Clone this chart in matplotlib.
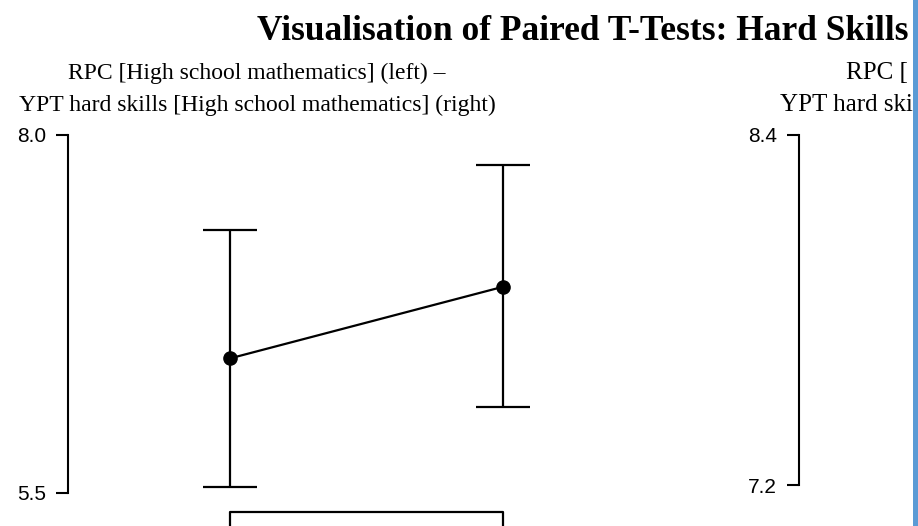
import matplotlib
matplotlib.use("Agg")
from matplotlib import pyplot as plt
from matplotlib.patches import Rectangle

# values
positions = [1, 2]
means = [6.44, 6.94]
ci_low = [5.54, 6.10]
ci_high = [7.34, 7.79]

left_ticks = [5.5, 8.0]
right_ticks = [7.2, 8.4]

title = "Visualisation of Paired T-Tests: Hard Skills"
sub_left = ["RPC [High school mathematics] (left) \u2013",
            "YPT hard skills [High school mathematics] (right)"]
sub_right = ["RPC [", "YPT hard skills ["]

W, H = 918, 526


def fx(px):
    return px / W


def fy(py):
    return (H - py) / H


fig = plt.figure(figsize=(W / 100, H / 100), dpi=100)
fig.patch.set_facecolor("white")

serif = "Liberation Serif"
sans = "Liberation Sans"

fig.text(fx(257), fy(40), title, family=serif, weight="bold", fontsize=25.5,
         ha="left", va="baseline")
fig.text(fx(257), fy(79), sub_left[0], family=serif, fontsize=17,
         ha="center", va="baseline")
fig.text(fx(257), fy(111), sub_left[1], family=serif, fontsize=17,
         ha="center", va="baseline")
fig.text(fx(846), fy(79), sub_right[0], family=serif, fontsize=18,
         ha="left", va="baseline")
fig.text(fx(780), fy(111), sub_right[1], family=serif, fontsize=18,
         ha="left", va="baseline")

# left panel
x0, x1 = 68, 600
ax = fig.add_axes([fx(x0), fy(493), fx(x1 - x0), fy(135) - fy(493)])
ppu = 273.0
ax.set_xlim(1 - (230 - x0) / ppu, 1 + (x1 - 230) / ppu)
ax.set_ylim(left_ticks[0], left_ticks[1])

err = [[m - lo for m, lo in zip(means, ci_low)],
       [hi - m for m, hi in zip(means, ci_high)]]
ax.errorbar(positions, means, yerr=err, fmt="none", ecolor="black",
            elinewidth=1.6, capsize=19.5, capthick=1.6, clip_on=False)
ax.plot(positions, means, color="black", lw=1.6, marker="o", ms=9.5,
        clip_on=False, zorder=3)

# bracket under the two conditions
ybr = left_ticks[0] - 19 * (left_ticks[1] - left_ticks[0]) / 358
ydn = left_ticks[0] - 40 * (left_ticks[1] - left_ticks[0]) / 358
ax.plot([positions[0], positions[0], positions[1], positions[1]],
        [ydn, ybr, ybr, ydn], color="black", lw=1.6, clip_on=False)

ax.set_yticks(left_ticks)
ax.set_yticklabels(["%.1f" % t for t in left_ticks], family=sans, fontsize=15)
ax.tick_params(axis="y", length=9, width=1.5, pad=7)
ax.tick_params(axis="x", bottom=False, labelbottom=False)
for s in ["top", "right", "bottom"]:
    ax.spines[s].set_visible(False)
ax.spines["left"].set_linewidth(1.5)
ax.patch.set_visible(False)

# right panel (cut off)
ax2 = fig.add_axes([fx(799), fy(485), fx(913 - 799), fy(135) - fy(485)])
ax2.set_ylim(right_ticks[0], right_ticks[1])
ax2.set_yticks(right_ticks)
ax2.set_yticklabels(["%.1f" % t for t in right_ticks], family=sans, fontsize=15)
ax2.tick_params(axis="y", length=9, width=1.5, pad=7)
ax2.tick_params(axis="x", bottom=False, labelbottom=False)
for s in ["top", "right", "bottom"]:
    ax2.spines[s].set_visible(False)
ax2.spines["left"].set_linewidth(1.5)
ax2.patch.set_visible(False)

# blue edge on the right
fig.add_artist(Rectangle((fx(913), 0), 1 - fx(913), 1, transform=fig.transFigure,
                         facecolor="#5b9bd5", edgecolor="none", zorder=10))

fig.savefig("out.png", dpi=100)
